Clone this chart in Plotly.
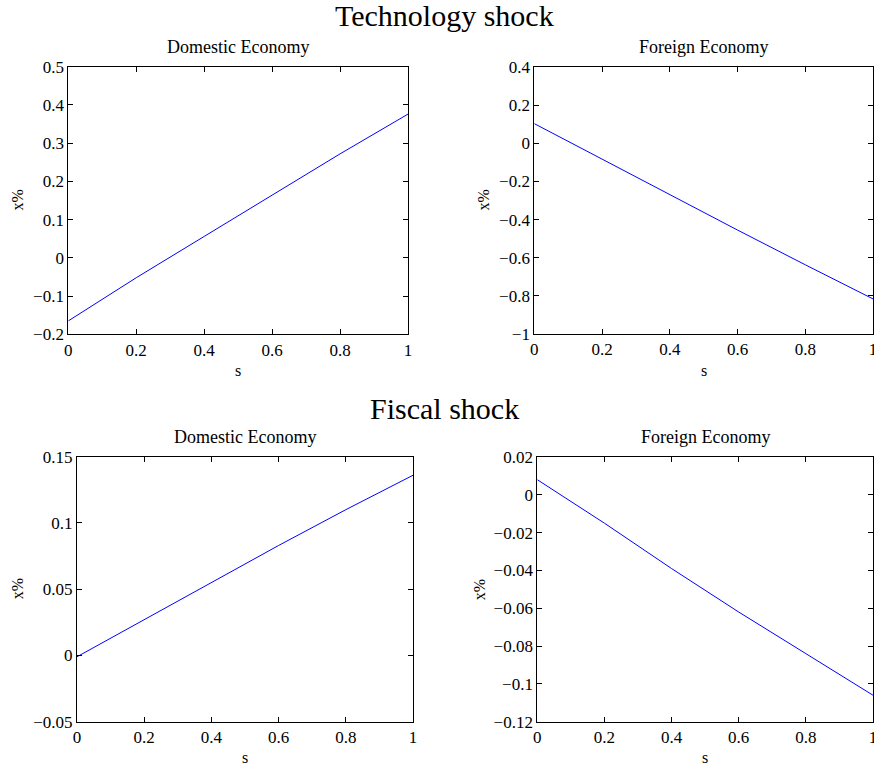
import plotly.graph_objects as go

W, H = 874, 769

# ---- data ----
s = [0.0, 0.2, 0.4, 0.6, 0.8, 1.0]
tech_domestic = [-0.165, -0.052, 0.056, 0.165, 0.272, 0.376]
tech_foreign = [0.103, -0.083, -0.270, -0.455, -0.637, -0.816]
fisc_domestic = [-0.001, 0.027, 0.055, 0.083, 0.110, 0.136]
fisc_foreign = [0.008, -0.015, -0.039, -0.062, -0.084, -0.106]

x_ticks = [0, 0.2, 0.4, 0.6, 0.8, 1]
x_tick_text = ["0", "0.2", "0.4", "0.6", "0.8", "1"]
y_ticks_td = [-0.2, -0.1, 0, 0.1, 0.2, 0.3, 0.4, 0.5]
y_text_td = ["\u22120.2", "\u22120.1", "0", "0.1", "0.2", "0.3", "0.4", "0.5"]
y_ticks_tf = [-1, -0.8, -0.6, -0.4, -0.2, 0, 0.2, 0.4]
y_text_tf = ["\u22121", "\u22120.8", "\u22120.6", "\u22120.4", "\u22120.2", "0", "0.2", "0.4"]
y_ticks_fd = [-0.05, 0, 0.05, 0.1, 0.15]
y_text_fd = ["\u22120.05", "0", "0.05", "0.1", "0.15"]
y_ticks_ff = [-0.12, -0.1, -0.08, -0.06, -0.04, -0.02, 0, 0.02]
y_text_ff = ["\u22120.12", "\u22120.1", "\u22120.08", "\u22120.06", "\u22120.04", "\u22120.02", "0", "0.02"]

main_titles = ["Technology shock", "Fiscal shock"]
sub_titles = ["Domestic Economy", "Foreign Economy"]

# panel pixel boxes (left, right, top, bottom)
boxes = [
    (68.3, 408.0, 66.7, 334.3),
    (534.3, 873.0, 67.0, 334.0),
    (77.0, 413.0, 456.7, 721.7),
    (537.3, 873.0, 457.0, 721.7),
]
series = [tech_domestic, tech_foreign, fisc_domestic, fisc_foreign]
yranges = [(-0.2, 0.5), (-1, 0.4), (-0.05, 0.15), (-0.12, 0.02)]
yticks = [(y_ticks_td, y_text_td), (y_ticks_tf, y_text_tf),
          (y_ticks_fd, y_text_fd), (y_ticks_ff, y_text_ff)]

FONT = "Liberation Serif"
fig = go.Figure()
layout = dict(
    width=W, height=H, margin=dict(l=0, r=0, t=0, b=0),
    paper_bgcolor="white", plot_bgcolor="white", showlegend=False,
    template="none", font=dict(family=FONT, size=17, color="black"),
)
annotations = []
for i, (box, ys, yr, (tv, tt)) in enumerate(zip(boxes, series, yranges, yticks)):
    l, r, t, b = box
    n = "" if i == 0 else str(i + 1)
    fig.add_trace(go.Scatter(x=s, y=ys, mode="lines",
                             line=dict(color="#0000ff", width=1),
                             xaxis="x" + n, yaxis="y" + n, cliponaxis=False))
    common = dict(showline=True, linecolor="black", linewidth=1, mirror="allticks",
                  ticks="inside", ticklen=5, tickcolor="black", tickwidth=1,
                  showgrid=False, zeroline=False, automargin=False,
                  ticklabeloverflow="allow",
                  tickfont=dict(family=FONT, size=17, color="black"))
    layout["xaxis" + n] = dict(domain=[l / W, r / W], range=[0, 1],
                               tickvals=x_ticks, ticktext=x_tick_text,
                               anchor="y" + n, **common)
    layout["yaxis" + n] = dict(domain=[1 - b / H, 1 - t / H], range=list(yr),
                               tickvals=tv, ticktext=tt,
                               anchor="x" + n, **common)
    cx = (l + r) / 2
    annotations.append(dict(text=sub_titles[i % 2], x=cx / W, y=1 - (t - 20) / H,
                            xref="paper", yref="paper", showarrow=False,
                            xanchor="center", yanchor="middle",
                            font=dict(family=FONT, size=18, color="black")))
    annotations.append(dict(text="s", x=cx / W, y=1 - (b + 36) / H,
                            xref="paper", yref="paper", showarrow=False,
                            xanchor="center", yanchor="middle",
                            font=dict(family=FONT, size=16, color="black")))

ylab_x = [17, 483, 17, 479]
for i, box in enumerate(boxes):
    l, r, t, b = box
    annotations.append(dict(text="x%", x=ylab_x[i] / W, y=1 - ((t + b) / 2) / H,
                            xref="paper", yref="paper", showarrow=False,
                            textangle=-90, xanchor="center", yanchor="middle",
                            font=dict(family=FONT, size=16, color="black")))

for txt, yc in zip(main_titles, [16, 409]):
    annotations.append(dict(text=txt, x=444 / W, y=1 - yc / H,
                            xref="paper", yref="paper", showarrow=False,
                            xanchor="center", yanchor="middle",
                            font=dict(family=FONT, size=30, color="black")))

layout["annotations"] = annotations
fig.update_layout(**layout)
fig.write_html("out.html")
